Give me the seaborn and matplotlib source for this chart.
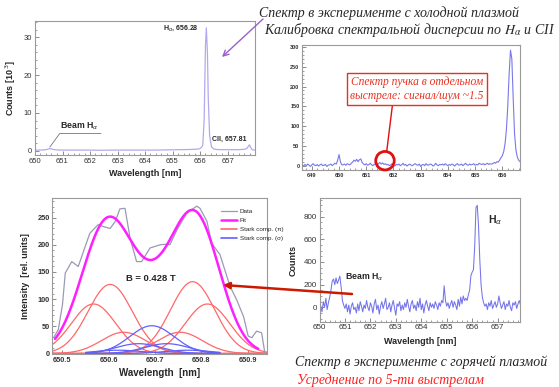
import numpy as np
import pandas as pd
import matplotlib
matplotlib.use('Agg')
import matplotlib.pyplot as plt
import seaborn as sns
from matplotlib.patches import Ellipse
from matplotlib.lines import Line2D
from matplotlib.ticker import MultipleLocator

sns.set_style("ticks")
plt.rcParams['font.family'] = ['Liberation Sans', 'DejaVu Sans']

W, H = 559, 387

# cold plasma spectrum, counts in 10^3
wl_cold = [650.0, 650.2, 650.4, 650.5, 650.55, 650.6, 650.7, 650.9, 651.2, 651.6,
           652.0, 652.4, 652.8, 653.2, 653.6, 654.0, 654.4, 654.8, 655.2, 655.6,
           655.9, 656.0, 656.05, 656.1, 656.15, 656.2, 656.23, 656.27, 656.3, 656.35,
           656.42, 656.5, 656.6, 656.8, 657.0, 657.2, 657.4, 657.6, 657.7, 657.76,
           657.8, 657.84, 657.9, 658.0]
cnt_cold = [0.2, 0.2, 0.3, 0.5, 0.6, 0.5, 0.3, 0.2, 0.2, 0.2,
            0.2, 0.15, 0.2, 0.2, 0.2, 0.2, 0.2, 0.25, 0.3, 0.35,
            0.45, 0.6, 0.9, 1.5, 8.0, 28.0, 32.5, 26.0, 14.0, 4.0,
            1.0, 0.5, 0.35, 0.3, 0.3, 0.3, 0.3, 0.4, 0.6, 1.2,
            1.6, 0.9, 0.3, 0.2]

# single shot beam spectrum, 0.05 nm steps from 648.65
shot_start = 648.65
shot_counts = [2, -1, 3, 0, 4, 1, -2, 2, 5, 1, 0, 3, -1, 2, 4, 0, 1, 3, -2, 1, 2, 4, 0, 3, 6,
               4, 14, 28, 10, 2,
               2, 4, 1, 5, 3, 2, 6,
               9, 14, 11, 16, 10, 15, 17, 8, 4,
               2, 5, 1, 3, 6, 2, 0, 4, 3, 1,
               5, 8, 4, 7, 3, 5, 2,
               3, 0, 2, 5, 1, -1, 3, 2, 4, 0,
               2, 6, 1, 3, -1, 2, 4, 1, 0, 3,
               5, 2, 1, 4, -2, 2, 3, 0, 5, 1,
               2, 4, 3, -1, 1, 6, 2, 0, 3, 2,
               4, 1, 5, 2, 0, 3, 1, 4, 2, -1,
               3, 5, 1, 2, 4, 0, 3, 6, 2, 1,
               4, 2, 3, 5, 1, 3, 2, 6, 4, 3,
               5, 2, 4, 6, 3, 5, 4,
               5, 8, 6, 10, 9, 14, 20,
               25, 35, 55, 90, 150, 230, 292, 270, 170, 80, 40, 22, 14, 10]

# hot plasma spectrum (5 shots), 0.05 nm steps from 650.00
hot_start = 650.0
hot_counts = [70, 10, -40, 50, 0, 80, -20, 40, 90, 150,
              230, 250, 200, 260, 210, 240, 275, 180, 60, 20,
              -10, 30, -40, 20, -60, 10, 40, -20, 0, -50,
              30, -30, 50, 10, -40, 20, -10, 60, 0, -30,
              40, 10, -50, 30, 70, -20, 20, -60, 10, 50,
              -10, 30, 80, -20, 0, 40, -40, 20, 60, -10,
              -70, 30, 10, 50, -30, 20, -20, 40, 0, 70,
              10, -40, 30, 60, -10, 20, -30, 50, 0, 80,
              -20, 30, -50, 20, 60, 10, -30, 40, 0, 30,
              -10, 50, 20, -20, 40, 10, 60,
              40, 190, 60,
              10, 40, -10, 30, 60, 0, 50, 20, -20, 70, 10, 90, 30, 100, 60, 80,
              60, 110, 150, 280, 310, 330, 540, 880, 900, 720, 420, 200, 90, 40, 10,
              30, -20, 40, 10, 60, -10, 20, 50, 0, 30, 100, 40, -10, 20,
              50, -20, 30, 10, 60, 0, -30, 40, 20, 50, -10, 30, 60, 20]

# Beam H-alpha zoom: measured data
wl_zoom = [650.481, 650.491, 650.500, 650.506, 650.520, 650.534, 650.559, 650.577, 650.590,
           650.603, 650.614, 650.624, 650.635, 650.646, 650.660, 650.671, 650.689, 650.711,
           650.725, 650.732, 650.747, 650.768, 650.790, 650.797, 650.812, 650.822, 650.840,
           650.862, 650.876, 650.891, 650.901, 650.909, 650.919, 650.930, 650.937]
int_zoom = [29, 44, 90, 148, 169, 160, 221, 237, 233,
            230, 243, 266, 267, 212, 169, 169, 194, 200,
            201, 200, 227, 258, 271, 267, 243, 203, 182,
            123, 99, 68, 32, 29, 41, 38, 1]

# Stark components (gaussian fit parameters)
pi_center = [650.567, 650.603, 650.632, 650.754, 650.781, 650.813]
pi_amp = [91, 127, 39, 39, 132, 91]
sigma_center = [650.620, 650.664, 650.693, 650.725, 650.770]
sigma_amp = [6, 18, 51, 18, 6]
comp_width = 0.048

fig = plt.figure(figsize=(W / 100, H / 100), dpi=100)


def fx(px):
    return px / W


def fy(py):
    return 1 - py / H


def box(l, t, r, b):
    return [l / W, 1 - b / H, (r - l) / W, (b - t) / H]


def root_style(ax, fs, bold=False):
    for s in ax.spines.values():
        s.set_color('#9a9a9a')
        s.set_linewidth(0.8)
    ax.tick_params(which='both', direction='in', color='#777777', labelsize=fs,
                   labelcolor='#333333', bottom=True, left=True, top=False, right=False, pad=2)
    ax.tick_params(which='major', length=3, width=0.6)
    ax.tick_params(which='minor', length=1.5, width=0.5)
    if bold:
        for lab in ax.get_xticklabels() + ax.get_yticklabels():
            lab.set_fontweight('bold')


def gauss(x, c, a):
    return a * np.exp(-(x - c) ** 2 / (2 * comp_width ** 2))


# --- top left: cold plasma ---
ax1 = fig.add_axes(box(35, 21, 255, 155))
sns.lineplot(x=wl_cold, y=cnt_cold, ax=ax1, color='#b2aaee', lw=0.9)
ax1.set_xlim(650, 658)
ax1.set_ylim(-1.1, 34.3)
ax1.set_xticks(range(650, 658))
ax1.set_yticks([0, 10, 20, 30])
ax1.xaxis.set_minor_locator(MultipleLocator(0.2))
ax1.yaxis.set_minor_locator(MultipleLocator(2))
root_style(ax1, 5.5)
ax1.set_xlabel('Wavelength [nm]', fontsize=6.5, fontweight='bold', labelpad=3)
ax1.set_ylabel('Counts [10$^{\\,3}$]', fontsize=6.5, fontweight='bold', labelpad=4)
ax1.text(655.95, 32.4, r'H$_\alpha$, 656.28', ha='right', va='center', fontsize=5, fontweight='bold')
ax1.text(656.42, 3.1, 'CII, 657.81', ha='left', va='center', fontsize=5, fontweight='bold')
ax1.text(650.9, 6.6, r'Beam H$_\alpha$', ha='left', va='center', fontsize=6.3, fontweight='bold')
ax1.plot([650.54, 650.9, 652.4], [1.0, 4.6, 4.6], color='#777777', lw=0.6)

# --- top right: single shot ---
ax2 = fig.add_axes(box(302.3, 45, 520, 170))
wl_shot = shot_start + 0.05 * np.arange(len(shot_counts))
sns.lineplot(x=wl_shot, y=shot_counts, ax=ax2, color='#7878ea', lw=0.8)
ax2.set_xlim(648.65, 656.65)
ax2.set_ylim(-11, 305)
ax2.set_xticks(range(649, 657))
ax2.set_yticks(range(0, 301, 50))
ax2.xaxis.set_minor_locator(MultipleLocator(0.2))
ax2.yaxis.set_minor_locator(MultipleLocator(10))
root_style(ax2, 4, bold=True)
ax2.set_xlabel('')
ax2.set_ylabel('')

# --- bottom left: beam H-alpha fit ---
ax3 = fig.add_axes(box(52.3, 198, 266.7, 354))
x_comp = np.linspace(650.478, 650.941, 300)
x_sig = np.linspace(650.55, 650.84, 200)
for c, a in zip(pi_center, pi_amp):
    sns.lineplot(x=x_comp, y=gauss(x_comp, c, a), ax=ax3, color='#ff6868', lw=0.9)
for c, a in zip(sigma_center, sigma_amp):
    sns.lineplot(x=x_sig, y=gauss(x_sig, c, a), ax=ax3, color='#6060ff', lw=0.9)
x_fit = np.linspace(650.484, 650.923, 300)
fit = sum(gauss(x_fit, c, a) for c, a in zip(pi_center + sigma_center, pi_amp + sigma_amp))
sns.lineplot(x=wl_zoom, y=int_zoom, ax=ax3, color='#9a9ab4', lw=0.9)
sns.lineplot(x=x_fit, y=fit, ax=ax3, color='#ff1eff', lw=1.8)
ax3.set_xlim(650.478, 650.941)
ax3.set_ylim(-1, 286)
ax3.set_xticks([650.5, 650.6, 650.7, 650.8, 650.9])
ax3.set_yticks(range(0, 251, 50))
ax3.xaxis.set_minor_locator(MultipleLocator(0.02))
ax3.yaxis.set_minor_locator(MultipleLocator(10))
root_style(ax3, 5.3, bold=True)
ax3.set_xlabel('Wavelength  [nm]', fontsize=7, fontweight='bold', labelpad=3)
ax3.set_ylabel('Intensity  [rel. units]', fontsize=6.5, fontweight='bold', labelpad=5)
ax3.text(650.69, 137, 'B = 0.428 T', ha='center', va='center', fontsize=6.8, fontweight='bold')
handles = [Line2D([], [], color='#9a9ab4', lw=0.9), Line2D([], [], color='#ff1eff', lw=1.8),
           Line2D([], [], color='#ff6868', lw=1.2), Line2D([], [], color='#6060ff', lw=1.2)]
fig.legend(handles, ['Data', 'Fit', 'Stark comp. (\u03c0)', 'Stark comp. (\u03c3)'],
           loc='upper left', bbox_to_anchor=(fx(221), fy(209)), bbox_transform=fig.transFigure,
           fontsize=4.5, frameon=False, handlelength=2.6, handletextpad=0.4,
           labelspacing=0.55, borderpad=0, borderaxespad=0)

# --- bottom right: hot plasma ---
ax4 = fig.add_axes(box(319.5, 198.3, 520, 321.7))
wl_hot = hot_start + 0.05 * np.arange(len(hot_counts))
sns.lineplot(x=wl_hot, y=hot_counts, ax=ax4, color='#7474ea', lw=0.75)
ax4.set_xlim(650, 657.88)
ax4.set_ylim(-127, 962)
ax4.set_xticks(range(650, 658))
ax4.set_yticks(range(0, 801, 200))
ax4.xaxis.set_minor_locator(MultipleLocator(0.2))
ax4.yaxis.set_minor_locator(MultipleLocator(50))
root_style(ax4, 5.8)
ax4.set_xlabel('Wavelength [nm]', fontsize=6.5, fontweight='bold', labelpad=4)
ax4.set_ylabel('Counts', fontsize=6.5, fontweight='bold', labelpad=4)
ax4.text(656.62, 770, r'H$_\alpha$', ha='left', va='center', fontsize=7.5, fontweight='bold')
ax4.text(651.0, 265, r'Beam H$_\alpha$', ha='left', va='center', fontsize=6.3, fontweight='bold')

# --- slide annotations ---
serif = dict(family=['Liberation Serif', 'DejaVu Serif'], style='italic', math_fontfamily='stix')
fig.text(fx(389), fy(13), 'Спектр в эксперименте с холодной плазмой', ha='center', va='center',
         fontsize=10, **serif)
fig.text(fx(410), fy(30), 'Калибровка спектральной дисперсии по $H_\\alpha$ и CII', ha='center',
         va='center', fontsize=10, **serif)
fig.text(fx(421), fy(362), 'Спектр в эксперименте с горячей плазмой', ha='center', va='center',
         fontsize=10, **serif)
fig.text(fx(297), fy(380), 'Усреднение по 5-ти выстрелам', ha='left', va='center',
         fontsize=10, color='#ff2020', **serif)
fig.text(fx(417), fy(89), 'Спектр пучка в отдельном\nвыстреле: сигнал/шум ~1.5', ha='center',
         va='center', fontsize=8.3, color='#e8301e', linespacing=1.15, zorder=5,
         bbox=dict(boxstyle='square,pad=0.25', fc='white', ec='#e8301e', lw=1), **serif)

fig.add_artist(Line2D([fx(386.7), fx(392.7)], [fy(151.5), fy(103)], color='#e01010', lw=1,
                      transform=fig.transFigure, zorder=5))
fig.add_artist(Ellipse((fx(385), fy(160.7)), 18.5 / W, 18.5 / H, transform=fig.transFigure,
                       fill=False, ec='#e01010', lw=2, zorder=5))

fig.add_artist(plt.Annotation('', xy=(fx(222), fy(57)), xytext=(fx(263), fy(19)),
                              xycoords='figure fraction', textcoords='figure fraction',
                              arrowprops=dict(arrowstyle='->', color='#9a5fd0', lw=1,
                                              mutation_scale=10, shrinkA=0, shrinkB=0)))
fig.add_artist(plt.Annotation('', xy=(fx(223), fy(285)), xytext=(fx(352), fy(294)),
                              xycoords='figure fraction', textcoords='figure fraction',
                              arrowprops=dict(arrowstyle='-|>', color='#cc1a00', lw=1.8,
                                              mutation_scale=9, shrinkA=0, shrinkB=0)))

fig.savefig('out.png', dpi=100)
